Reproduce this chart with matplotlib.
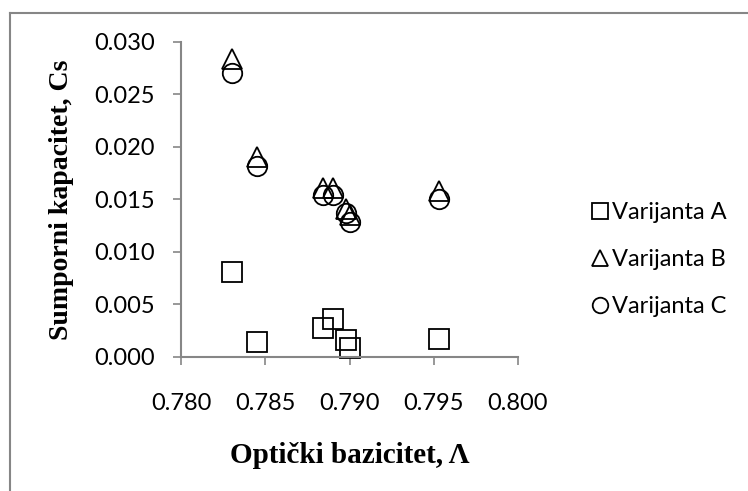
import matplotlib.pyplot as plt
from matplotlib.lines import Line2D

# optička bazičnost i sumporni kapacitet za tri varijante
bazicitet = [0.7830, 0.7845, 0.7884, 0.7890, 0.7898, 0.7900, 0.7953]
cs_a = [0.0081, 0.0014, 0.0028, 0.0036, 0.0016, 0.0009, 0.0017]
cs_b = [0.0284, 0.0190, 0.0161, 0.0161, 0.0141, 0.0135, 0.0158]
cs_c = [0.0270, 0.0182, 0.0154, 0.0154, 0.0137, 0.0129, 0.0150]
serije = ["Varijanta A", "Varijanta B", "Varijanta C"]
x_ticks = [0.780, 0.785, 0.790, 0.795, 0.800]
y_ticks = [0.000, 0.005, 0.010, 0.015, 0.020, 0.025, 0.030]

siva = "#868686"
font_txt = "Lato"

fig = plt.figure(figsize=(7.48, 4.91), dpi=100)
ax = fig.add_axes([0.242, 0.273, 0.4505, 0.6415])

# okvir oko grafikona (lijevo i gore)
fig.add_artist(Line2D([10 / 748, 10 / 748], [0, 1 - 13 / 491], color=siva, lw=1.5))
fig.add_artist(Line2D([10 / 748, 1], [1 - 13 / 491, 1 - 13 / 491], color=siva, lw=1.5))

stil = dict(linestyle="none", markerfacecolor="none", markeredgecolor="black",
            markeredgewidth=1.3, clip_on=False)
ax.plot(bazicitet, cs_a, marker="s", markersize=14, label=serije[0], **stil)
ax.plot(bazicitet, cs_b, marker="^", markersize=14, label=serije[1], **stil)
ax.plot(bazicitet, cs_c, marker="o", markersize=14, label=serije[2], **stil)

ax.set_xlim(0.780, 0.800)
ax.set_ylim(0.000, 0.030)
ax.set_xticks(x_ticks)
ax.set_yticks(y_ticks)
ax.set_xticklabels([f"{v:.3f}" for v in x_ticks], fontfamily=font_txt, fontsize=17)
ax.set_yticklabels([f"{v:.3f}" for v in y_ticks], fontfamily=font_txt, fontsize=17)
ax.tick_params(axis="x", direction="out", length=6, width=1.2, color=siva, pad=20)
ax.tick_params(axis="y", direction="out", length=6, width=1.2, color=siva, pad=13)

for s in ["top", "right"]:
    ax.spines[s].set_visible(False)
for s in ["left", "bottom"]:
    ax.spines[s].set_color(siva)
    ax.spines[s].set_linewidth(1.5)

ax.set_xlabel("Optički bazicitet, Λ", fontfamily="Liberation Serif", fontweight="bold",
              fontsize=21, labelpad=20)
ax.set_ylabel("Sumporni kapacitet, Cs", fontfamily="Liberation Serif", fontweight="bold",
              fontsize=20, labelpad=14)

leg = ax.legend(loc="center left", bbox_to_anchor=(1.16, 0.31), frameon=False,
                prop={"family": font_txt, "size": 17}, handlelength=0.55,
                handletextpad=0.25, labelspacing=1.1, markerscale=0.8)

fig.savefig("out.png", dpi=100, facecolor="white")
